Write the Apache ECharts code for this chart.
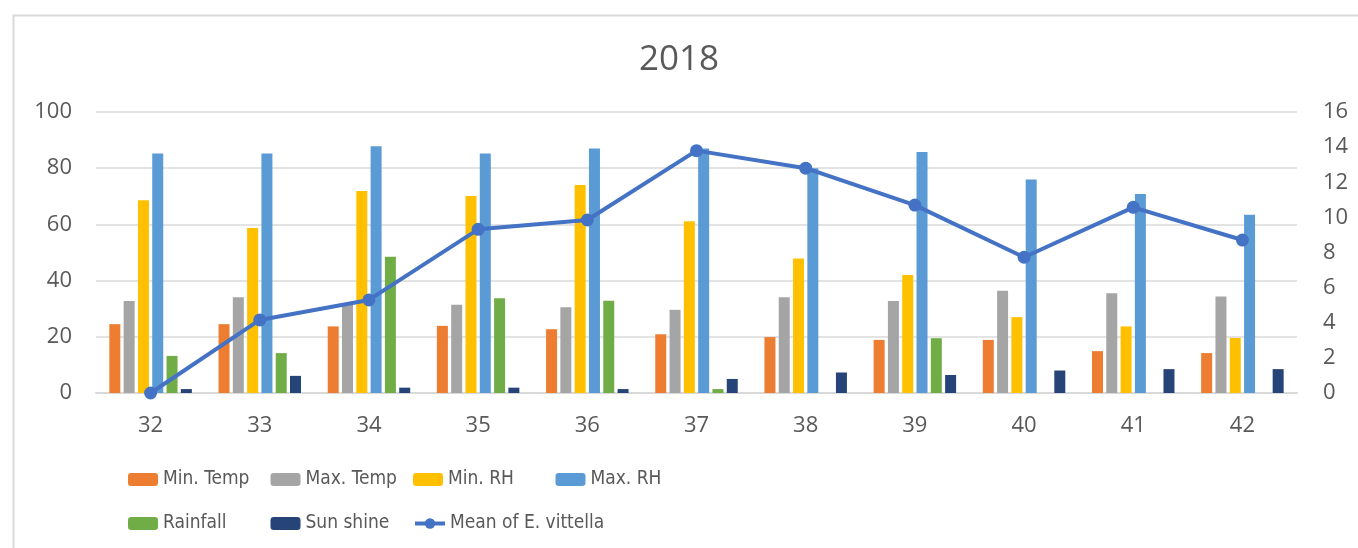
<!DOCTYPE html>
<html>
<head>
<meta charset="utf-8">
<script src="https://cdn.jsdelivr.net/npm/echarts@6/dist/echarts.min.js"></script>
<style>
  html, body { margin: 0; padding: 0; background: #fff; }
  #chart { width: 1358px; height: 548px; }
</style>
</head>
<body>
<div id="chart"></div>
<script>
// week numbers
var categories = ['32', '33', '34', '35', '36', '37', '38', '39', '40', '41', '42']
var minTemp = [24.5, 24.5, 23.7, 23.9, 22.7, 20.9, 19.9, 18.9, 18.9, 14.9, 14.2]
var maxTemp = [32.7, 34.1, 31.5, 31.4, 30.5, 29.6, 34.1, 32.7, 36.4, 35.5, 34.3]
var minRH = [68.6, 58.7, 71.9, 70.1, 74.0, 61.1, 47.9, 42.0, 27.0, 23.7, 19.6]
var maxRH = [85.2, 85.2, 87.8, 85.2, 87.0, 87.0, 80.0, 85.8, 76.0, 70.8, 63.4]
var rainfall = [13.2, 14.2, 48.5, 33.7, 32.8, 1.4, 0, 19.5, 0, 0, 0]
var sunshine = [1.4, 6.1, 1.9, 1.9, 1.4, 5.0, 7.3, 6.4, 8.0, 8.5, 8.5]
var meanVittella = [0, 4.16, 5.3, 9.32, 9.85, 13.8, 12.8, 10.7, 7.73, 10.57, 8.71]

var legendNames = ['Min. Temp', 'Max. Temp', 'Min. RH', 'Max. RH', 'Rainfall', 'Sun shine', 'Mean of E. vittella']

var axisFont = '"Open Sans", "Noto Sans", sans-serif'
var legendFont = '"Liberation Sans Narrow", "DejaVu Sans Condensed", "Liberation Sans", sans-serif'

function bar (name, data, color) {
  return {
    name: name,
    type: 'bar',
    data: data,
    barWidth: 11,
    barGap: '30%',
    itemStyle: { color: color }
  }
}

// one legend per entry, 4 per row like the excel layout
var legends = legendNames.map(function (name, i) {
  return {
    left: 128 + (i % 4) * 142.5,
    top: i < 4 ? 470 : 514,
    padding: 0,
    itemWidth: 30,
    itemHeight: 13,
    itemGap: 4,
    lineStyle: { width: 4 },
    textStyle: { color: '#595959', fontSize: 19, fontFamily: legendFont },
    data: [name]
  }
})

var chart = echarts.init(document.getElementById('chart'))
chart.setOption({
  animation: false,
  backgroundColor: '#fff',
  title: {
    text: '2018',
    left: 'center',
    top: 38,
    textStyle: { color: '#595959', fontSize: 35, fontWeight: 'normal', fontFamily: axisFont }
  },
  graphic: [{
    type: 'rect',
    left: 11,
    top: 13,
    shape: { width: 1400, height: 600 },
    style: { fill: 'none', stroke: '#D9D9D9', lineWidth: 2 },
    z: -1
  }],
  legend: legends,
  grid: { left: 96, right: 61, top: 112, bottom: 155 },
  xAxis: {
    type: 'category',
    data: categories,
    axisTick: { show: false },
    axisLine: { lineStyle: { color: '#D9D9D9', width: 2 } },
    axisLabel: { color: '#595959', fontSize: 22, fontFamily: axisFont, margin: 22 }
  },
  yAxis: [{
    type: 'value',
    min: 0,
    max: 100,
    interval: 20,
    axisLabel: { color: '#595959', fontSize: 22, fontFamily: axisFont, margin: 24 },
    splitLine: { lineStyle: { color: '#E3E3E3', width: 2 } }
  }, {
    type: 'value',
    min: 0,
    max: 16,
    interval: 2,
    axisLabel: { color: '#595959', fontSize: 22, fontFamily: axisFont, margin: 26 },
    splitLine: { show: false }
  }],
  series: [
    bar('Min. Temp', minTemp, '#ED7D31'),
    bar('Max. Temp', maxTemp, '#A5A5A5'),
    bar('Min. RH', minRH, '#FFC000'),
    bar('Max. RH', maxRH, '#5B9BD5'),
    bar('Rainfall', rainfall, '#70AD47'),
    bar('Sun shine', sunshine, '#264478'),
    {
      name: 'Mean of E. vittella',
      type: 'line',
      yAxisIndex: 1,
      data: meanVittella,
      symbol: 'circle',
      symbolSize: 13,
      itemStyle: { color: '#4472C4' },
      lineStyle: { color: '#4472C4', width: 4 },
      z: 5
    }
  ]
})
</script>
</body>
</html>
